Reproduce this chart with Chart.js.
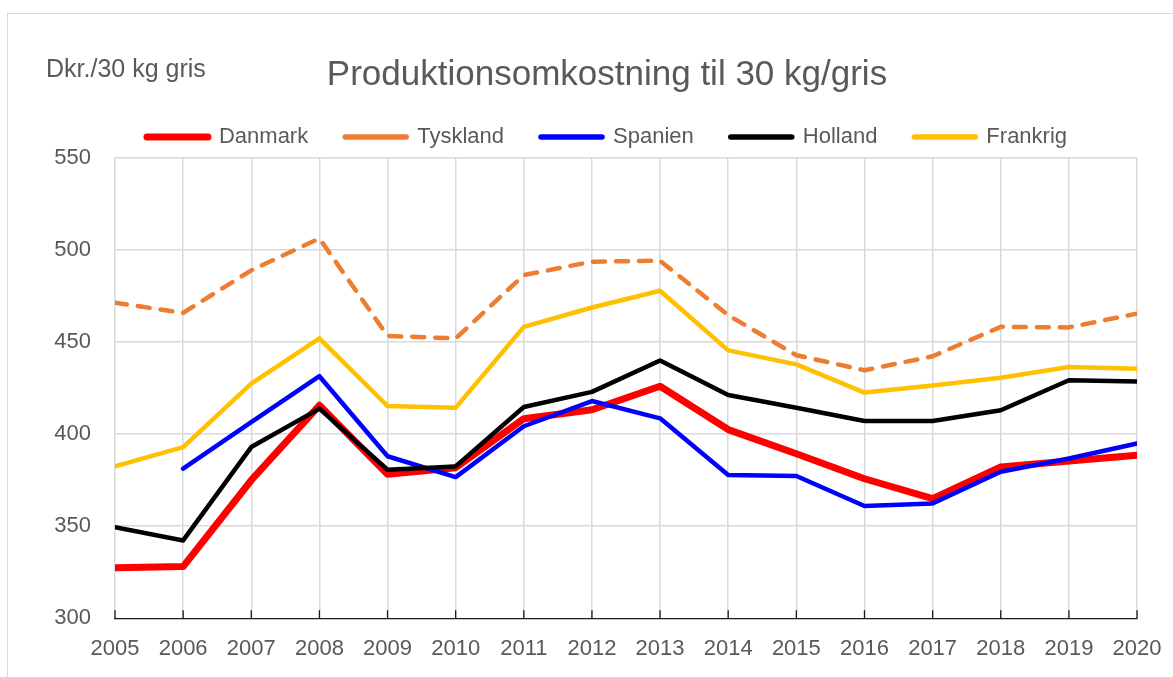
<!DOCTYPE html>
<html>
<head>
<meta charset="utf-8">
<script src="https://cdn.jsdelivr.net/npm/chart.js@4.4.1/dist/chart.umd.min.js"></script>
<style>
html,body{margin:0;padding:0;background:#fff;overflow:hidden}
#wrap{position:relative;width:1173px;height:677px;overflow:hidden}
#frame{position:absolute;left:7px;top:13px;width:1180px;height:700px;border-left:1px solid #d9d9d9;border-top:1px solid #d9d9d9}
canvas{position:absolute;left:0;top:0}
</style>
</head>
<body>
<div id="wrap"><div id="frame"></div><canvas id="c" width="1179" height="677"></canvas></div>
<script>
// ---- data ----
const years = ['2005','2006','2007','2008','2009','2010','2011','2012','2013','2014','2015','2016','2017','2018','2019','2020'];
const danmark  = [327.4, 328.1, 375.0, 415.7, 378.2, 381.8, 408.4, 413.3, 426.0, 402.5, 389.4, 375.8, 365.0, 382.2, 385.4, 388.5];
const tyskland = [471.4, 465.9, 489.0, 506.3, 453.4, 452.0, 486.4, 493.7, 494.2, 464.6, 442.9, 434.7, 442.3, 458.3, 458.0, 465.5];
const spanien  = [null,  381.3, 406.6, 431.5, 388.0, 376.7, 404.3, 418.0, 408.6, 377.8, 377.3, 361.0, 362.4, 379.6, 386.8, 394.9];
const holland  = [349.5, 342.3, 393.0, 413.9, 380.7, 382.5, 414.8, 423.0, 440.0, 421.3, 414.4, 407.2, 407.2, 413.0, 429.3, 428.6];
const frankrig = [382.5, 393.0, 427.5, 452.0, 415.3, 414.4, 458.3, 468.8, 477.9, 445.5, 437.9, 422.6, 426.5, 430.7, 436.5, 435.6];
const seriesNames = ['Danmark', 'Tyskland', 'Spanien', 'Holland', 'Frankrig'];
const yTicks = [300, 350, 400, 450, 500, 550];
const titleText = 'Produktionsomkostning til 30 kg/gris';
const unitText = 'Dkr./30 kg gris';

// ---- styling ----
const FONT = "'Liberation Sans', Arial, sans-serif";
const TXT = '#595959';
Chart.defaults.font.family = FONT;
Chart.defaults.color = TXT;

const unitLabel = {
  id: 'unitLabel',
  afterDraw(chart) {
    const c = chart.ctx;
    c.save();
    c.font = '25px ' + FONT;
    c.fillStyle = TXT;
    c.textAlign = 'left';
    c.textBaseline = 'middle';
    c.fillText(unitText, 46, 70);
    c.restore();
  }
};

const innerTicks = {
  id: 'innerTicks',
  afterDatasetsDraw(chart) {
    const s = chart.scales.x;
    const c = chart.ctx;
    const b = chart.chartArea.bottom;
    c.save();
    c.strokeStyle = '#1a1a1a';
    c.lineWidth = 1.3;
    c.beginPath();
    for (let i = 0; i < s.ticks.length; i++) {
      const px = s.getPixelForTick(i);
      c.moveTo(px, b);
      c.lineTo(px, b - 8);
    }
    c.stroke();
    c.restore();
  }
};

function ds(label, data, color, width, order, dash) {
  return {
    label, data,
    borderColor: color, backgroundColor: color,
    borderWidth: width,
    borderDash: dash || [],
    borderCapStyle: 'round',
    borderJoinStyle: 'round',
    pointRadius: 0, pointHoverRadius: 0,
    tension: 0, fill: false,
    clip: 0,
    order
  };
}

new Chart(document.getElementById('c'), {
  type: 'line',
  data: {
    labels: years,
    datasets: [
      ds(seriesNames[0], danmark,  '#FF0000', 7,   5),
      ds(seriesNames[1], tyskland, '#ED7D31', 4.5, 4, [12, 11]),
      ds(seriesNames[2], spanien,  '#0000FF', 4.5, 3),
      ds(seriesNames[3], holland,  '#000000', 4.5, 2),
      ds(seriesNames[4], frankrig, '#FFC000', 4.5, 1)
    ]
  },
  plugins: [unitLabel, innerTicks],
  options: {
    responsive: false,
    animation: false,
    devicePixelRatio: 1,
    layout: { padding: { left: 35, right: 0, top: 0, bottom: 14.7 } },
    plugins: {
      tooltip: { enabled: false },
      title: {
        display: true,
        text: titleText,
        color: TXT,
        font: { size: 35, weight: 'normal', lineHeight: 0.75 },
        padding: { top: 61.9, bottom: 0.85 }
      },
      legend: {
        position: 'top',
        align: 'center',
        labels: {
          usePointStyle: true,
          pointStyle: 'line',
          pointStyleWidth: 61,
          padding: 37,
          color: TXT,
          font: { size: 22 },
          sort: (a, b) => a.datasetIndex - b.datasetIndex,
          generateLabels(chart) {
            const items = Chart.defaults.plugins.legend.labels.generateLabels(chart);
            items.forEach(it => {
              it.lineWidth = it.datasetIndex === 0 ? 7 : 5.5;
              it.lineCap = 'round';
            });
            return items;
          }
        }
      }
    },
    scales: {
      x: {
        type: 'category',
        offset: false,
        afterFit: (s) => { s.height = 44; },
        grid: { color: '#d9d9d9', lineWidth: 1.5, drawTicks: false },
        border: { display: true, color: '#1a1a1a', width: 1.3 },
        ticks: { color: TXT, font: { size: 22 }, padding: 17.5, maxRotation: 0, autoSkip: false }
      },
      y: {
        min: 300, max: 550,
        afterBuildTicks: (s) => { s.ticks = yTicks.map(v => ({ value: v })); },
        afterFit: (s) => { s.width = 115 - 35; },
        grid: {
          color: (ctx) => (ctx.tick && ctx.tick.value === 300) ? 'rgba(0,0,0,0)' : '#d9d9d9',
          lineWidth: 1.5,
          drawTicks: false
        },
        border: { display: false },
        ticks: { color: TXT, font: { size: 22 }, padding: 24 }
      }
    }
  }
});
</script>
</body>
</html>
